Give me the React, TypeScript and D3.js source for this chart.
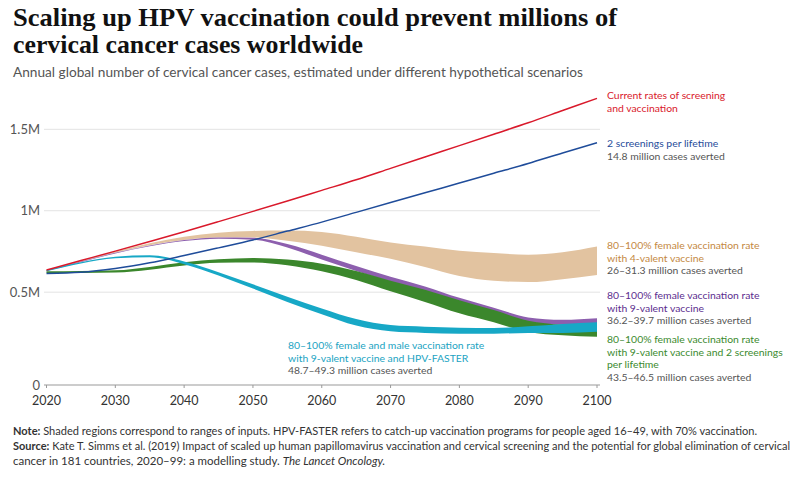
import React from "react";
import * as d3 from "d3";

// years sampled every 5 years, values in millions of cases
const years = [2020, 2025, 2030, 2035, 2040, 2045, 2050, 2055, 2060, 2065, 2070, 2075, 2080, 2085, 2090, 2095, 2100];

const currentRates = [0.636, 0.694, 0.752, 0.811, 0.871, 0.933, 0.996, 1.06, 1.125, 1.19, 1.26, 1.33, 1.4, 1.47, 1.54, 1.615, 1.69];
const twoScreenings = [0.615, 0.622, 0.645, 0.68, 0.725, 0.772, 0.82, 0.875, 0.93, 0.99, 1.05, 1.11, 1.17, 1.23, 1.29, 1.355, 1.417];

const fourValentHigh = [0.636, 0.694, 0.75, 0.8, 0.84, 0.865, 0.876, 0.878, 0.87, 0.84, 0.805, 0.78, 0.755, 0.74, 0.73, 0.745, 0.78];
const fourValentLow = [0.632, 0.688, 0.742, 0.788, 0.82, 0.835, 0.835, 0.815, 0.785, 0.745, 0.705, 0.655, 0.6, 0.57, 0.562, 0.58, 0.605];

const nineValentHigh = [0.634, 0.688, 0.742, 0.786, 0.82, 0.836, 0.834, 0.795, 0.73, 0.66, 0.595, 0.535, 0.465, 0.405, 0.345, 0.33, 0.34];
const nineValentLow = [0.63, 0.684, 0.738, 0.782, 0.814, 0.828, 0.822, 0.775, 0.7, 0.63, 0.565, 0.505, 0.44, 0.38, 0.318, 0.3, 0.31];

const nineScreenHigh = [0.628, 0.63, 0.634, 0.655, 0.683, 0.702, 0.71, 0.7, 0.675, 0.63, 0.57, 0.515, 0.45, 0.39, 0.325, 0.3, 0.29];
const nineScreenLow = [0.618, 0.618, 0.62, 0.638, 0.664, 0.68, 0.682, 0.665, 0.628, 0.575, 0.505, 0.44, 0.37, 0.315, 0.255, 0.235, 0.226];

const fasterHigh = [0.634, 0.684, 0.718, 0.726, 0.688, 0.622, 0.548, 0.472, 0.4, 0.335, 0.298, 0.288, 0.282, 0.28, 0.29, 0.305, 0.315];
const fasterLow = [0.628, 0.676, 0.708, 0.714, 0.672, 0.602, 0.522, 0.44, 0.365, 0.295, 0.26, 0.25, 0.245, 0.245, 0.25, 0.25, 0.257];

const xTicks = [2020, 2030, 2040, 2050, 2060, 2070, 2080, 2090, 2100];
const yTicks = [0.5, 1, 1.5];
const yTickLabels = ["0.5M", "1M", "1.5M"];

const FONT = "Lato, 'Open Sans', sans-serif";
const GREY = "#555";

const bands = [
  { hi: fourValentHigh, lo: fourValentLow, fill: "#e2c3a0" },
  { hi: nineValentHigh, lo: nineValentLow, fill: "#8d5fae" },
  { hi: nineScreenHigh, lo: nineScreenLow, fill: "#3b872c" },
  { hi: fasterHigh, lo: fasterLow, fill: "#17a8c6" },
];

const lines = [
  { values: twoScreenings, stroke: "#1f4c9a" },
  { values: currentRates, stroke: "#d9192b" },
];

const labels = [
  { x: 607, y: 99, color: "#d9192b", lines: ["Current rates of screening", "and vaccination"], note: null },
  { x: 607, y: 147, color: "#1f4c9a", lines: ["2 screenings per lifetime"], note: "14.8 million cases averted" },
  { x: 607, y: 249, color: "#c4883f", lines: ["80–100% female vaccination rate", "with 4-valent vaccine"], note: "26–31.3 million cases averted" },
  { x: 607, y: 299, color: "#5b2d8e", lines: ["80–100% female vaccination rate", "with 9-valent vaccine"], note: "36.2–39.7 million cases averted" },
  { x: 607, y: 343, color: "#3b8a2e", lines: ["80–100% female vaccination rate", "with 9-valent vaccine and 2 screenings", "per lifetime"], note: "43.5–46.5 million cases averted" },
  { x: 288, y: 349, color: "#1aa3c2", lines: ["80–100% female and male vaccination rate", "with 9-valent vaccine and HPV-FASTER"], note: "48.7–49.3 million cases averted" },
];

export default function App() {
  const x = d3.scaleLinear().domain([2020, 2100]).range([46.5, 597]);
  // the baseline sits a little below zero in the original
  const y = d3.scaleLinear().domain([-0.07, 1.5]).range([385, 129.3]);

  const area = (hi: number[], lo: number[]) =>
    d3
      .area<number>()
      .x((_, i) => x(years[i]))
      .y0((_, i) => y(lo[i]))
      .y1((_, i) => y(hi[i]))
      .curve(d3.curveMonotoneX)(hi);

  const line = d3
    .line<number>()
    .x((_, i) => x(years[i]))
    .y((d) => y(d))
    .curve(d3.curveMonotoneX);

  const lh = 12.7;

  return (
    <div style={{ position: "fixed", left: 0, top: 0 }}>
      <svg width={800} height={481} style={{ display: "block", background: "#fff" }}>
        <text x={13} y={26} fontFamily="'Liberation Serif', serif" fontWeight="bold" fontSize={25} fill="#111" textLength={604} lengthAdjust="spacingAndGlyphs">
          Scaling up HPV vaccination could prevent millions of
        </text>
        <text x={13} y={53} fontFamily="'Liberation Serif', serif" fontWeight="bold" fontSize={25} fill="#111" textLength={350} lengthAdjust="spacingAndGlyphs">
          cervical cancer cases worldwide
        </text>
        <text x={13} y={77} fontFamily={FONT} fontSize={13} fill={GREY} textLength={570} lengthAdjust="spacingAndGlyphs">
          Annual global number of cervical cancer cases, estimated under different hypothetical scenarios
        </text>

        {/* grid */}
        {yTicks.map((t, i) => (
          <g key={t}>
            <line x1={44} x2={600} y1={y(t)} y2={y(t)} stroke="#e3e3e3" strokeWidth={1} />
            <text x={40} y={y(t) + 4.5} textAnchor="end" fontFamily={FONT} fontSize={13} fill={GREY}>
              {yTickLabels[i]}
            </text>
          </g>
        ))}
        <text x={40} y={y(-0.07) + 4.5} textAnchor="end" fontFamily={FONT} fontSize={13} fill={GREY}>
          0
        </text>

        {/* bands */}
        {bands.map((b, i) => (
          <path key={i} d={area(b.hi, b.lo) || ""} fill={b.fill} />
        ))}
        {lines.map((l, i) => (
          <path key={i} d={line(l.values) || ""} fill="none" stroke={l.stroke} strokeWidth={1.5} />
        ))}

        {/* x axis */}
        <line x1={44} x2={600} y1={385} y2={385} stroke="#999" strokeWidth={1} />
        {xTicks.map((t) => (
          <g key={t}>
            <line x1={x(t)} x2={x(t)} y1={385} y2={388} stroke="#999" />
            <text x={x(t)} y={405} textAnchor="middle" fontFamily={FONT} fontSize={12.5} fill="#333">
              {t}
            </text>
          </g>
        ))}

        {/* labels */}
        {labels.map((l, i) => (
          <g key={i} fontFamily={FONT} fontSize={10.4}>
            {l.lines.map((s, j) => (
              <text key={j} x={l.x} y={l.y + j * lh} fill={l.color}>
                {s}
              </text>
            ))}
            {l.note && (
              <text x={l.x} y={l.y + l.lines.length * lh} fill={GREY}>
                {l.note}
              </text>
            )}
          </g>
        ))}

        {/* footer */}
        <g fontFamily={FONT} fontSize={11.2} fill="#333">
          <text x={13} y={435} textLength={744} lengthAdjust="spacingAndGlyphs">
            <tspan fontWeight="bold">Note:</tspan> Shaded regions correspond to ranges of inputs. HPV-FASTER refers to catch-up vaccination programs for people aged 16–49, with 70% vaccination.
          </text>
          <text x={13} y={450} fontSize={10.8} textLength={777} lengthAdjust="spacingAndGlyphs">
            <tspan fontWeight="bold">Source:</tspan> Kate T. Simms et al. (2019) Impact of scaled up human papillomavirus vaccination and cervical screening and the potential for global elimination of cervical
          </text>
          <text x={13} y={465} fontSize={11.5}>
            cancer in 181 countries, 2020–99: a modelling study. <tspan fontStyle="italic">The Lancet Oncology.</tspan>
          </text>
        </g>
      </svg>
    </div>
  );
}
